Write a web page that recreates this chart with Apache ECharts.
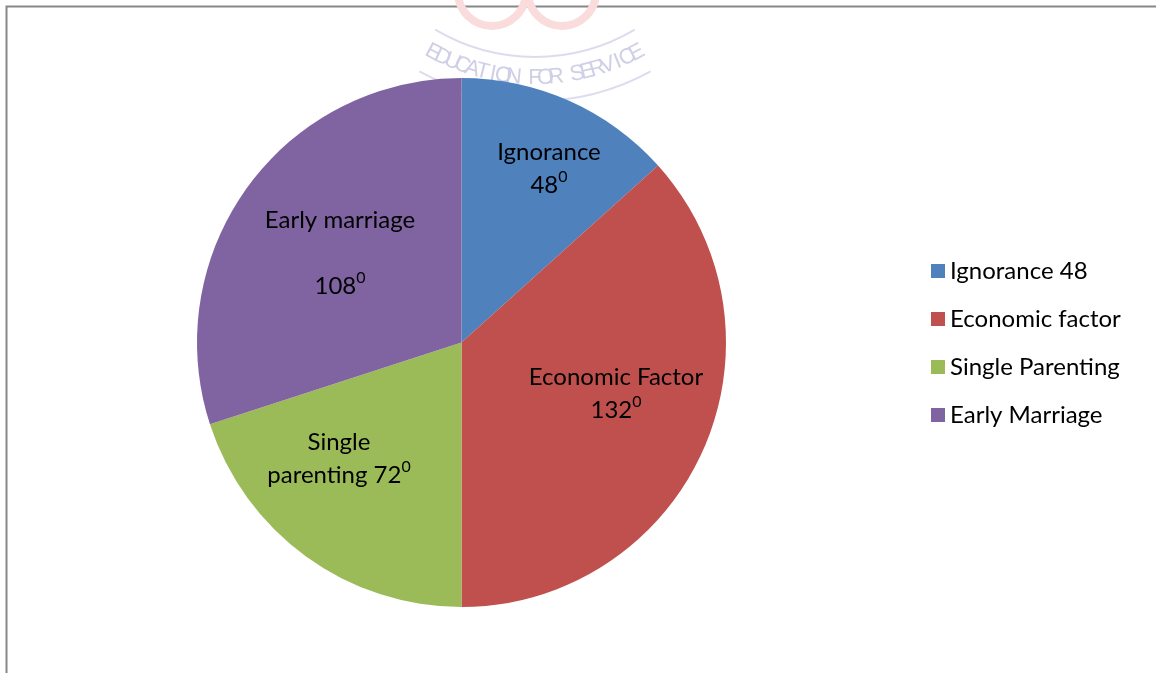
<!DOCTYPE html>
<html>
<head>
<meta charset="utf-8">
<script src="https://cdn.jsdelivr.net/npm/echarts@6/dist/echarts.min.js"></script>
<style>html,body{margin:0;padding:0;background:#fff}#c{width:1156px;height:673px}</style>
</head>
<body>
<div id="c"></div>
<script>
// Data
const categories = ['Ignorance 48', 'Economic factor', 'Single Parenting', 'Early Marriage'];
const degrees = [48, 132, 72, 108];
const sliceLabels = ['Ignorance\n48', 'Economic Factor\n132', 'Single\nparenting 72', 'Early marriage\n\n108'];
const colors = ['#4F81BD', '#C0504D', '#9BBB59', '#8064A2'];
// label anchor points (style, not data)
const labelPos = [[549, 169], [616, 394], [339, 459], [340, 253]];

const chart = echarts.init(document.getElementById('c'));
const FONT = 'Lato';

// decorative watermark text on an arc
const wm = 'EDUCATION FOR SERVICE';
const wmGraphics = [];
const cx = 535, cy = -139, R = 217;
const span = 56; // degrees
for (let i = 0; i < wm.length; i++) {
  const a = (-span / 2 + span * i / (wm.length - 1)) * Math.PI / 180;
  wmGraphics.push({
    type: 'text', silent: true, z: -10,
    x: cx + R * Math.sin(a), y: cy + R * Math.cos(a),
    rotation: a,
    style: { text: wm[i], fill: '#cfcfe6', font: '22px Arial', align: 'center', verticalAlign: 'middle' }
  });
}

chart.setOption({
  backgroundColor: '#fff',
  animation: false,
  color: colors,
  graphic: [
    { type: 'rect', silent: true, z: -20, shape: { x: 6.5, y: 6.5, width: 1200, height: 720 },
      style: { fill: 'none', stroke: '#878787', lineWidth: 2 } },
    { type: 'arc', silent: true, z: -11, shape: { cx: 535, cy: -139, r: 240, startAngle: Math.PI * 0.34, endAngle: Math.PI * 0.66 },
      style: { fill: 'none', stroke: '#dcdcee', lineWidth: 2 } },
    { type: 'arc', silent: true, z: -11, shape: { cx: 535, cy: -139, r: 196, startAngle: Math.PI * 0.33, endAngle: Math.PI * 0.67 },
      style: { fill: 'none', stroke: '#dcdcee', lineWidth: 2 } },
    { type: 'arc', silent: true, z: -11, shape: { cx: 492, cy: -8, r: 34, startAngle: 0, endAngle: Math.PI },
      style: { fill: 'none', stroke: '#fadcdc', lineWidth: 8 } },
    { type: 'arc', silent: true, z: -11, shape: { cx: 562, cy: -8, r: 34, startAngle: 0, endAngle: Math.PI },
      style: { fill: 'none', stroke: '#fadcdc', lineWidth: 8 } }
  ].concat(wmGraphics),
  legend: {
    orient: 'vertical',
    left: 926,
    top: 254,
    icon: 'rect',
    itemWidth: 14,
    itemHeight: 14,
    itemGap: 24,
    data: categories,
    textStyle: { fontFamily: FONT, fontSize: 24, lineHeight: 24, color: '#000', padding: [0, 0, 0, 0] }
  },
  series: [{
    type: 'pie',
    center: [461.5, 342.5],
    radius: 264.5,
    startAngle: 90,
    clockwise: true,
    avoidLabelOverlap: false,
    emphasis: { disabled: true },
    itemStyle: { borderWidth: 0 },
    labelLine: { show: false },
    label: {
      show: true,
      position: 'inside',
      color: '#000',
      fontFamily: FONT,
      fontSize: 24,
      lineHeight: 33,
      align: 'center',
      formatter: p => sliceLabels[p.dataIndex] + '{sup|0}',
      rich: { sup: { fontFamily: FONT, fontSize: 16, lineHeight: 33, verticalAlign: 'top', color: '#000' } }
    },
    labelLayout: p => ({ x: labelPos[p.dataIndex][0], y: labelPos[p.dataIndex][1], align: 'center', verticalAlign: 'middle' }),
    data: categories.map((n, i) => ({ name: n, value: degrees[i] }))
  }]
});
</script>
</body>
</html>
